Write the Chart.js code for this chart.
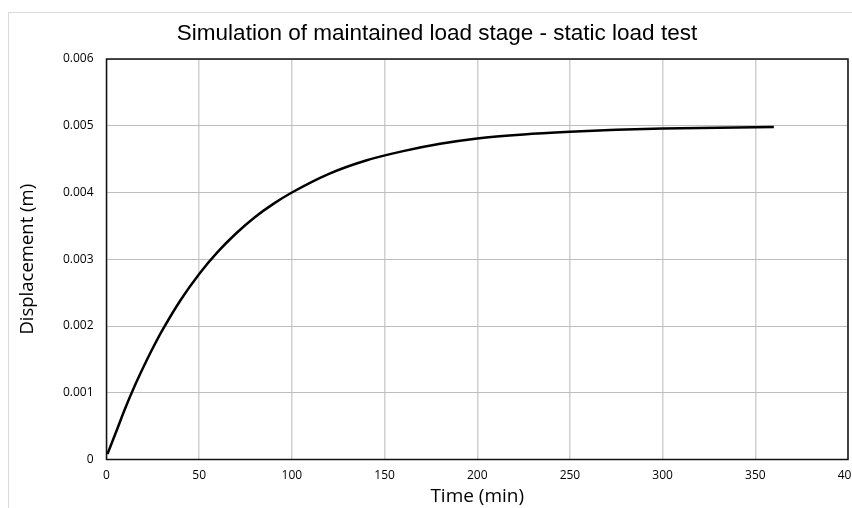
<!DOCTYPE html>
<html>
<head>
<meta charset="utf-8">
<script src="https://cdn.jsdelivr.net/npm/chart.js@4/dist/chart.umd.min.js"></script>
<style>
  html, body { margin: 0; padding: 0; background: #fff; overflow: hidden; }
  #wrap { width: 852px; height: 508px; overflow: hidden; position: relative; }
  canvas { display: block; }
</style>
</head>
<body>
<div id="wrap">
  <canvas id="loadChart" width="878" height="508"></canvas>
</div>
<script>
// Values
const timeMin = [0.5, 5, 10, 15, 20, 25, 30, 40, 50, 60, 70, 80, 90, 100,
  120, 140, 160, 180, 200, 225, 250, 275, 300, 330, 360];
const displacement = [0.00008, 0.0004, 0.00076, 0.00109, 0.00139, 0.00167,
  0.00193, 0.00239, 0.00278, 0.00311, 0.00339, 0.00363, 0.00383, 0.004,
  0.00428, 0.00448, 0.00462, 0.00473, 0.00481, 0.00487, 0.00491, 0.00494,
  0.00496, 0.00497, 0.00498];
const xTickLabels = ["0", "50", "100", "150", "200", "250", "300", "350", "400"];
const yTickLabels = ["0", "0.001", "0.002", "0.003", "0.004", "0.005", "0.006"];

const chartTitle = "Simulation of maintained load stage - static load test";
const xTitle = "Time (min)";
const yTitle = "Displacement (m)";

// Outer frame (light grey) and plot border (black)
const framePlugin = {
  id: "frame",
  beforeDraw(chart) {
    const ctx = chart.ctx;
    ctx.save();
    ctx.fillStyle = "#ffffff";
    ctx.fillRect(0, 0, chart.width, chart.height);
    ctx.strokeStyle = "#d9d9d9";
    ctx.lineWidth = 1;
    ctx.strokeRect(8.5, 12.5, chart.width + 20, chart.height + 20);
    ctx.restore();
  },
  afterDraw(chart) {
    const { left, top, right, bottom } = chart.chartArea;
    const ctx = chart.ctx;
    ctx.save();
    ctx.strokeStyle = "#111111";
    ctx.lineWidth = 1.5;
    ctx.strokeRect(left, top, right - left, bottom - top);
    ctx.restore();
  },
};

const ctx = document.getElementById("loadChart").getContext("2d");
const chart = new Chart(ctx, {
  type: "line",
  data: {
    datasets: [
      {
        label: "Displacement",
        data: timeMin.map((t, i) => ({ x: t, y: displacement[i] })),
        borderColor: "#000000",
        borderWidth: 2.5,
        pointRadius: 0,
        cubicInterpolationMode: "monotone",
        fill: false,
      },
    ],
  },
  options: {
    responsive: false,
    animation: false,
    devicePixelRatio: 1,
    layout: {
      padding: { left: 26, right: 30, top: 8, bottom: 0 },
    },
    plugins: {
      legend: { display: false },
      tooltip: { enabled: false },
      title: {
        display: true,
        text: chartTitle,
        color: "#000000",
        font: { family: "'Liberation Sans', Arial, sans-serif", size: 22.5, weight: "normal" },
        padding: { top: 12.5, bottom: 11.5 },
      },
    },
    scales: {
      x: {
        type: "linear",
        min: 0,
        max: 400,
        border: { display: false },
        grid: { color: "#d0d0d0", lineWidth: 1.5, drawTicks: false },
        ticks: {
          stepSize: 50,
          padding: 9,
          color: "#000000",
          maxRotation: 0,
          font: { family: "'Open Sans', sans-serif", size: 12 },
          callback: (v) => xTickLabels[Math.round(v / 50)],
        },
        title: {
          display: true,
          text: xTitle,
          color: "#000000",
          font: { family: "'Open Sans', sans-serif", size: 19 },
          padding: { top: 2, bottom: 0 },
        },
        afterFit: (scale) => {
          scale.height = 48.5;
        },
      },
      y: {
        min: 0,
        max: 0.006,
        border: { display: false },
        grid: { color: "#bdbdbd", lineWidth: 1, drawTicks: false },
        ticks: {
          stepSize: 0.001,
          padding: 13,
          color: "#000000",
          font: { family: "'Open Sans', sans-serif", size: 12 },
          callback: (v) => yTickLabels[Math.round(v / 0.001)],
        },
        title: {
          display: true,
          text: yTitle,
          color: "#000000",
          font: { family: "'Open Sans', sans-serif", size: 18.5 },
          padding: { top: -9, bottom: 0 },
        },
        afterFit: (scale) => {
          scale.width = 80.5;
        },
      },
    },
  },
  plugins: [framePlugin],
});
</script>
</body>
</html>
